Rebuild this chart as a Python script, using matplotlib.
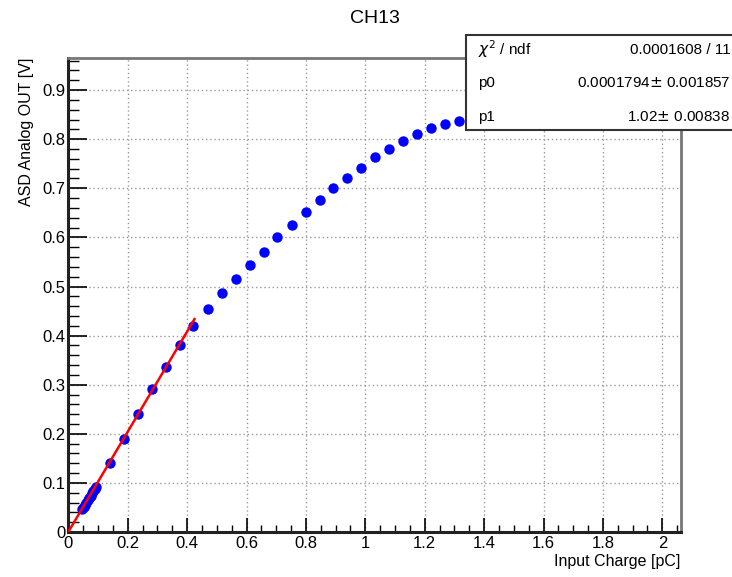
"""CH13 linearity scan: ASD analog output vs injected charge with a linear fit."""

import matplotlib.pyplot as plt
import numpy as np
from matplotlib.patches import Rectangle
from matplotlib.ticker import MultipleLocator

plt.rcParams["font.family"] = ["Liberation Sans", "DejaVu Sans"]

CHANNEL = "CH13"

# measured points: injected charge [pC] and analog output [V]
charge = [0.047, 0.052, 0.056, 0.061, 0.066, 0.070, 0.075, 0.080, 0.084, 0.089, 0.093,
          0.140, 0.187, 0.235, 0.283, 0.329, 0.376, 0.421,
          0.472, 0.518, 0.565, 0.611, 0.659, 0.704, 0.753, 0.799, 0.846,
          0.892, 0.940, 0.986, 1.033, 1.080, 1.127, 1.173, 1.221, 1.268, 1.315]
v_out = [0.046, 0.051, 0.055, 0.060, 0.065, 0.069, 0.074, 0.079, 0.083, 0.087, 0.091,
         0.140, 0.189, 0.241, 0.291, 0.336, 0.380, 0.420,
         0.454, 0.486, 0.515, 0.544, 0.571, 0.600, 0.625, 0.651, 0.676,
         0.700, 0.722, 0.742, 0.763, 0.780, 0.797, 0.810, 0.823, 0.831, 0.837]

# pol1 fit result (ROOT stats box)
p0, p0_err = 0.0001794, 0.001857
p1, p1_err = 1.02, 0.00838
chi2, ndf = 0.0001608, 11
fit_range = (0.0, 0.425)

fig = plt.figure(figsize=(7.32, 5.77), dpi=100)
ax = fig.add_axes([0.0933, 0.078, 0.8367, 0.822])

ax.plot(charge, v_out, "o", color="#0000ff", ms=7.5, mec="none", zorder=3)
xf = np.linspace(*fit_range, 50)
ax.plot(xf, p0 + p1 * xf, color="red", lw=1.8, zorder=4)

ax.set_xlim(0, 2.062)
ax.set_ylim(0, 0.966)
ax.xaxis.set_major_locator(MultipleLocator(0.2))
ax.xaxis.set_minor_locator(MultipleLocator(0.05))
ax.yaxis.set_major_locator(MultipleLocator(0.1))
ax.yaxis.set_minor_locator(MultipleLocator(0.02))
ax.set_xticks(np.arange(0, 2.01, 0.2))
ax.set_xticklabels(["0", "0.2", "0.4", "0.6", "0.8", "1", "1.2", "1.4", "1.6", "1.8", "2"])
ax.set_yticks(np.arange(0, 0.91, 0.1))
ax.set_yticklabels(["0", "0.1", "0.2", "0.3", "0.4", "0.5", "0.6", "0.7", "0.8", "0.9"])
ax.tick_params(which="major", direction="in", length=10, width=1.2, labelsize=12,
               top=False, right=False)
ax.tick_params(which="minor", direction="in", length=5, width=1.0, top=False, right=False)
ax.tick_params(axis="y", which="major", length=14, pad=2)
ax.tick_params(axis="y", which="minor", length=8)
ax.tick_params(axis="x", which="major", pad=3)
ax.grid(True, which="major", ls=(0, (1, 2)), color="#999999", lw=1.0)

for side in ("left", "bottom"):
    ax.spines[side].set_linewidth(2.2)
    ax.spines[side].set_color("#222222")
for side in ("top", "right"):
    ax.spines[side].set_linewidth(2.0)
    ax.spines[side].set_color("#777777")

ax.set_xlabel("Input Charge [pC]", fontsize=11.5, loc="right", labelpad=2)
ax.set_ylabel("ASD Analog OUT [V]", fontsize=11.5, loc="top", labelpad=6)
fig.suptitle(CHANNEL, x=0.512, y=0.982, fontsize=14)

# stats box in the top right corner
box = Rectangle((0.637, 0.775), 0.4, 0.164, transform=fig.transFigure,
                facecolor="white", edgecolor="#333333", lw=1.5, zorder=10)
fig.patches.append(box)
rows = [
    (r"$\chi^2$ / ndf", f"{chi2:.7f} / {ndf}"),
    ("p0", f"{p0:.7f}$\\pm$ {p0_err}"),
    ("p1", f"{p1}$\\pm$ {p1_err}"),
]
for i, (name, value) in enumerate(rows):
    y = 0.914 - i * 0.058
    fig.text(0.653, y, name, fontsize=11, va="center", ha="left", zorder=11)
    fig.text(0.998, y, value, fontsize=11, va="center", ha="right", zorder=11)

fig.savefig("out.png", dpi=100)
